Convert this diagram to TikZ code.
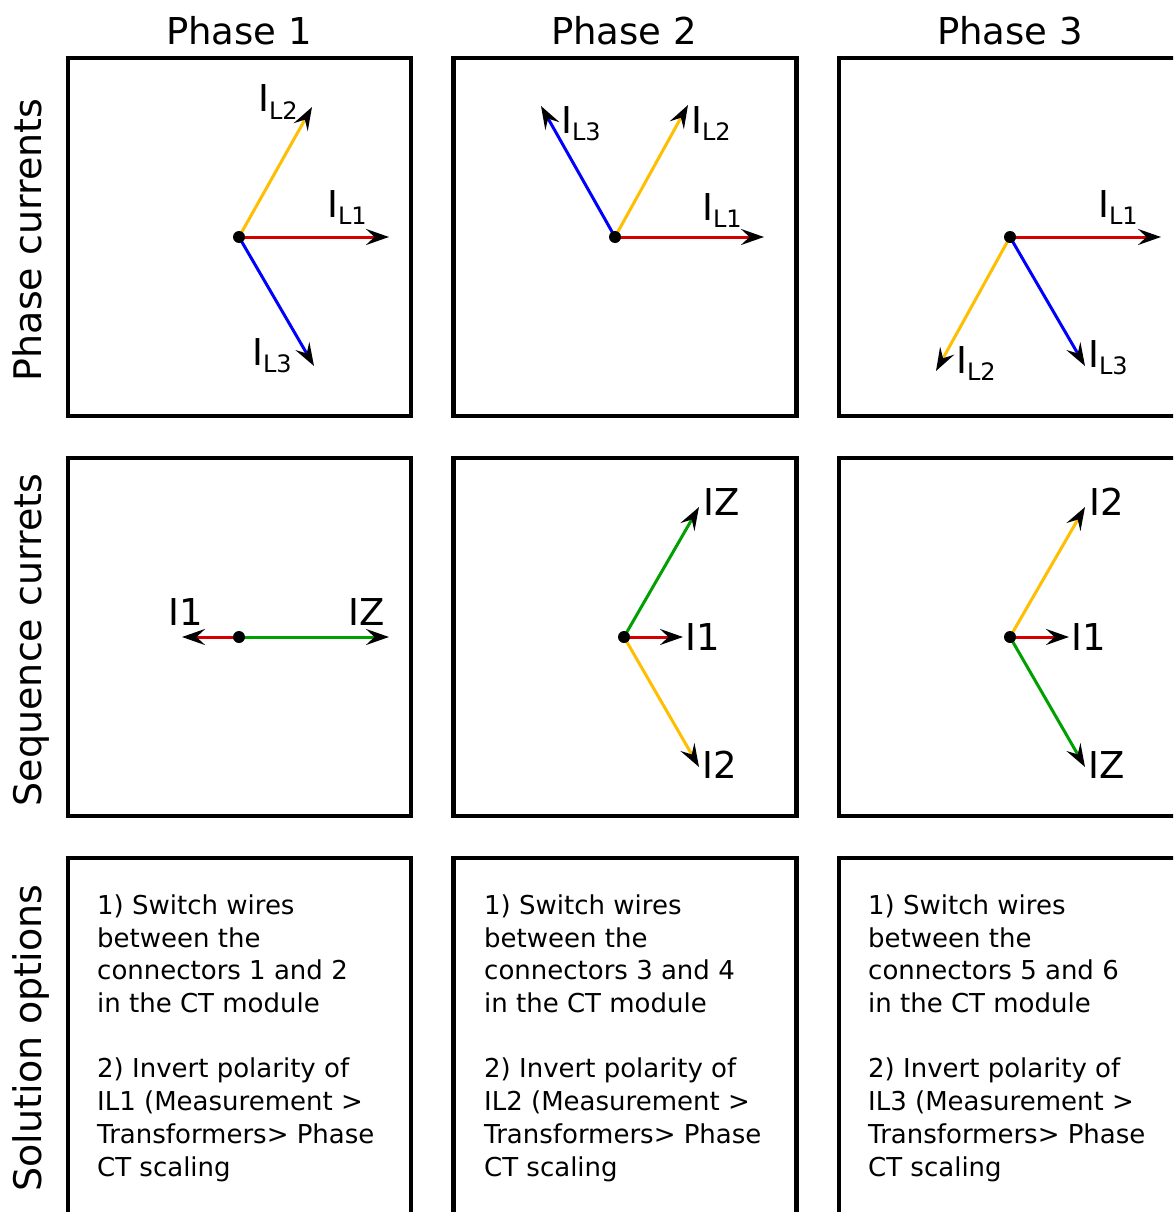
\documentclass[tikz,border=0pt]{standalone}
\usepackage{fontspec}
\setmainfont{DejaVu Sans}
\usetikzlibrary{arrows.meta}
\definecolor{cred}{RGB}{212,0,0}
\definecolor{cyel}{RGB}{255,190,0}
\definecolor{cblue}{RGB}{0,0,255}
\definecolor{cgreen}{RGB}{0,160,0}
\newcommand\Sub[1]{\raisebox{-7.5pt}{\fontsize{24}{24}\selectfont #1}}
\begin{document}
\begin{tikzpicture}[x=1pt,y=-1pt,
  panel/.style={draw, line width=4.5pt, minimum width=343pt, minimum height=358pt, inner sep=0pt},
  vec/.style={line width=3pt, -{Stealth[length=23pt,width=16pt,inset=8.5pt,color=black]}},
  lab/.style={anchor=base west, inner sep=0pt, font=\fontsize{37}{37}\selectfont},
  head/.style={anchor=base, inner sep=0pt, font=\fontsize{37}{37}\selectfont},
  side/.style={anchor=base, inner sep=0pt, rotate=90, font=\fontsize{38}{38}\selectfont},
  txt/.style={anchor=base west, inner sep=0pt, font=\fontsize{26}{26}\selectfont},
  dot/.style={circle, fill=black, inner sep=0pt, minimum size=12pt}]
\useasboundingbox (0,0) rectangle (1173,1212);
\clip (0,0) rectangle (1173,1212);
\fill[white] (0,0) rectangle (1173,1212);
% headers
\node[head] (h1) at (239,45) {Phase 1};
\node[head] (h2) at (624,45) {Phase 2};
\node[head] (h3) at (1010,45) {Phase 3};
\node[side] (s1) at (41,240) {Phase currents};
\node[side] (s2) at (41,640) {Sequence currets};
\node[side] (s3) at (41,1038) {Solution options};
% panels
\foreach \c/\x in {1/239.5,2/625,3/1010.5}{
  \foreach \r/\y in {1/237,2/637,3/1037}{
    \node[panel] (p\r\c) at (\x,\y) {};
  }
}
% ---- row 1, phase 1
\coordinate (o11) at (239,237);
\coordinate (a11) at (389,237);
\coordinate (b11) at (312,107);
\coordinate (c11) at (314,366);
\draw[vec,cred] (o11) -- (a11);
\draw[vec,cyel] (o11) -- (b11);
\draw[vec,cblue] (o11) -- (c11);
\node[dot] (d11) at (o11) {};
\node[lab] (la11) at (327,217) {I\Sub{L1}};
\node[lab] (lb11) at (258,112) {I\Sub{L2}};
\node[lab] (lc11) at (252,365) {I\Sub{L3}};
% ---- row 1, phase 2
\coordinate (o12) at (615,237);
\coordinate (a12) at (764,237);
\coordinate (b12) at (688,105);
\coordinate (c12) at (541,106);
\draw[vec,cred] (o12) -- (a12);
\draw[vec,cyel] (o12) -- (b12);
\draw[vec,cblue] (o12) -- (c12);
\node[dot] (d12) at (o12) {};
\node[lab] (la12) at (702,220) {I\Sub{L1}};
\node[lab] (lb12) at (691,133) {I\Sub{L2}};
\node[lab] (lc12) at (561,133) {I\Sub{L3}};
% ---- row 1, phase 3
\coordinate (o13) at (1010,237);
\coordinate (a13) at (1161,237);
\coordinate (b13) at (936,371);
\coordinate (c13) at (1085,366);
\draw[vec,cred] (o13) -- (a13);
\draw[vec,cyel] (o13) -- (b13);
\draw[vec,cblue] (o13) -- (c13);
\node[dot] (d13) at (o13) {};
\node[lab] (la13) at (1098,217) {I\Sub{L1}};
\node[lab] (lb13) at (956,373) {I\Sub{L2}};
\node[lab] (lc13) at (1088,367) {I\Sub{L3}};
% ---- row 2, phase 1
\coordinate (o21) at (239,637);
\coordinate (a21) at (182,637);
\coordinate (z21) at (389,637);
\draw[vec,cgreen] (o21) -- (z21);
\draw[vec,cred] (o21) -- (a21);
\node[dot] (d21) at (o21) {};
\node[lab] (la21) at (168,625) {I1};
\node[lab] (lz21) at (348,625) {IZ};
% ---- row 2, phase 2
\coordinate (o22) at (624,637);
\coordinate (z22) at (699,507);
\coordinate (a22) at (683,637);
\coordinate (b22) at (699,767);
\draw[vec,cgreen] (o22) -- (z22);
\draw[vec,cred] (o22) -- (a22);
\draw[vec,cyel] (o22) -- (b22);
\node[dot] (d22) at (o22) {};
\node[lab] (lz22) at (703,515) {IZ};
\node[lab] (la22) at (685,650) {I1};
\node[lab] (lb22) at (702,778) {I2};
% ---- row 2, phase 3
\coordinate (o23) at (1010,637);
\coordinate (b23) at (1085,507);
\coordinate (a23) at (1069,637);
\coordinate (z23) at (1085,767);
\draw[vec,cyel] (o23) -- (b23);
\draw[vec,cred] (o23) -- (a23);
\draw[vec,cgreen] (o23) -- (z23);
\node[dot] (d23) at (o23) {};
\node[lab] (lb23) at (1089,515) {I2};
\node[lab] (la23) at (1071,650) {I1};
\node[lab] (lz23) at (1088,778) {IZ};
% ---- row 3 texts
\foreach \c/\x/\m/\n/\k in {1/97/1/2/1,2/484/3/4/2,3/868/5/6/3}{
  \node[txt] (t\c-1) at (\x,914) {1) Switch wires};
  \node[txt] (t\c-2) at (\x,947) {between the};
  \node[txt] (t\c-3) at (\x,979) {connectors \m\ and \n};
  \node[txt] (t\c-4) at (\x,1012) {in the CT module};
  \node[txt] (t\c-5) at (\x,1077) {2) Invert polarity of};
  \node[txt] (t\c-6) at (\x,1110) {IL\k\ (Measurement >};
  \node[txt] (t\c-7) at (\x,1143) {Transformers> Phase};
  \node[txt] (t\c-8) at (\x,1176) {CT scaling};
}
\end{tikzpicture}
\end{document}
